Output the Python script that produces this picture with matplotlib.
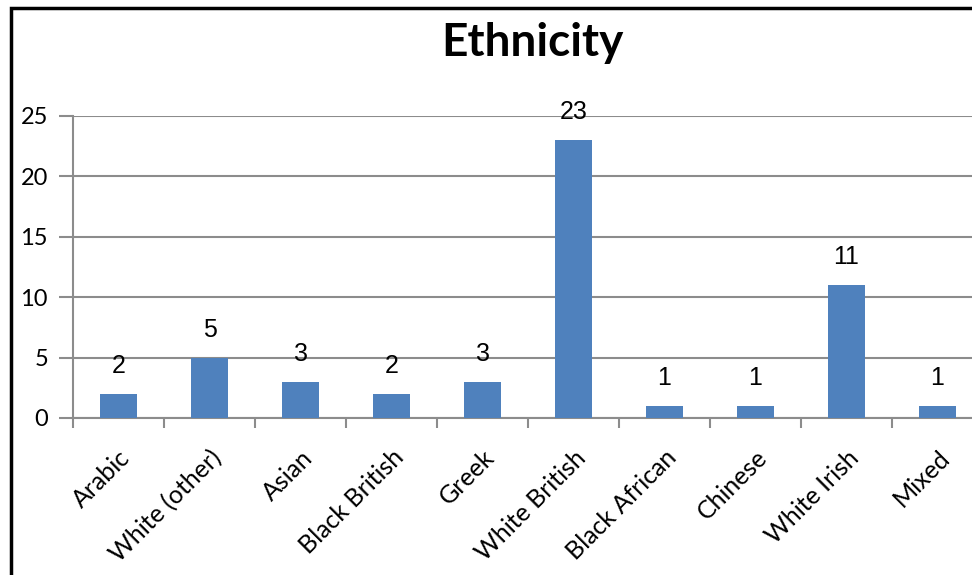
import matplotlib
matplotlib.use("Agg")
import matplotlib.pyplot as plt
from matplotlib.patches import Rectangle
import numpy as np

categories = ["Arabic", "White (other)", "Asian", "Black British", "Greek",
              "White British", "Black African", "Chinese", "White Irish", "Mixed"]
values = [2, 5, 3, 2, 3, 23, 1, 1, 11, 1]
yticks = [0, 5, 10, 15, 20, 25]
title = "Ethnicity"

W, H = 972, 575
fig = plt.figure(figsize=(W / 100, H / 100), dpi=100)
fig.patch.set_facecolor("white")

ax_left, ax_right, ax_top, ax_bottom = 73, 983, 116, 418
ax = fig.add_axes([ax_left / W, 1 - ax_bottom / H, (ax_right - ax_left) / W,
                   (ax_bottom - ax_top) / H])
ax.set_clip_on(False)

x = np.arange(len(categories))
bar_color = "#4F81BD"
bars = ax.bar(x, values, width=0.4, color=bar_color, zorder=3)

ax.set_xlim(-0.5, len(categories) - 0.5)
ax.set_ylim(0, 25)
ax.set_yticks(yticks)
ax.set_yticklabels([str(t) for t in yticks], fontsize=17, family="Lato")
ax.yaxis.grid(True, color="#8c8c8c", linewidth=1.5, zorder=0)
ax.set_axisbelow(True)

# x ticks at category boundaries, labels at centers
ax.set_xticks(np.arange(len(categories) + 1) - 0.5)
ax.set_xticklabels([])
ax.set_xticks(x, minor=True)
ax.set_xticklabels(categories, minor=True, rotation=45, ha="right", va="top",
                   rotation_mode="anchor", fontsize=18, family="Lato")
ax.tick_params(axis="x", which="minor", length=0, pad=20)
ax.tick_params(axis="x", which="major", length=7, width=1.5, color="#8c8c8c",
               direction="out")
ax.tick_params(axis="y", length=10, width=1.5, color="#8c8c8c", pad=8)

for s in ["top", "right"]:
    ax.spines[s].set_visible(False)
for s in ["left", "bottom"]:
    ax.spines[s].set_color("#8c8c8c")
    ax.spines[s].set_linewidth(1.5)

for xi, v in zip(x, values):
    ax.annotate(str(v), (xi, v), xytext=(0, 20), textcoords="offset points",
                ha="center", va="center", fontsize=18, family="Liberation Sans",
                zorder=4)

fig.text(532 / W, 1 - 43 / H, title, ha="center", va="center", fontsize=33,
         fontweight="bold", family="Lato")

# outer frame (partially cropped)
fig.patches.append(Rectangle((10.5 / W, -0.1), 1.2, 1 - 7.5 / H + 0.1,
                             transform=fig.transFigure, fill=False,
                             edgecolor="black", linewidth=2.5))

fig.savefig("out.png", dpi=100)
